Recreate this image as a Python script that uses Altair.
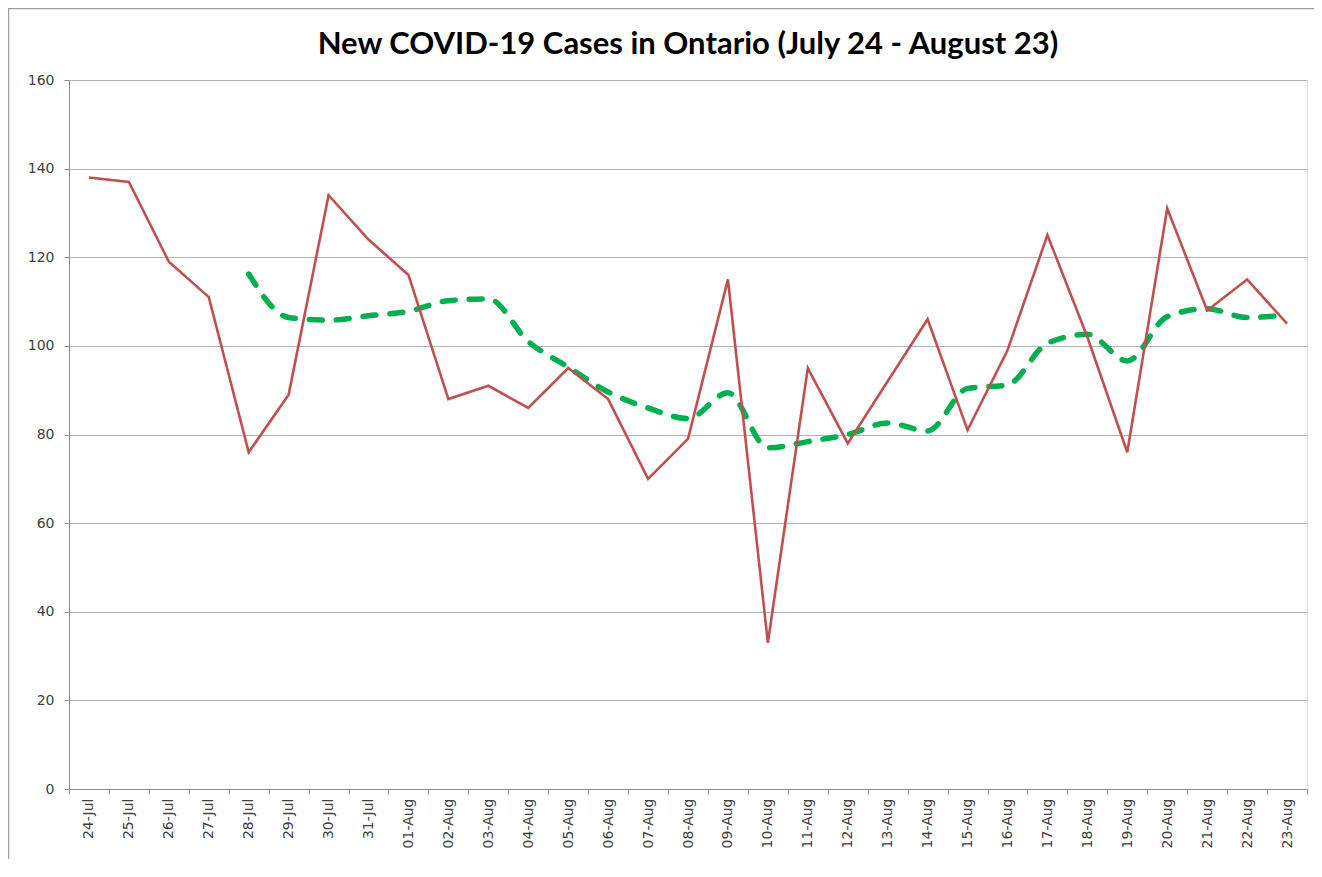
import altair as alt
import pandas as pd

dates = ["24-Jul", "25-Jul", "26-Jul", "27-Jul", "28-Jul", "29-Jul", "30-Jul", "31-Jul",
         "01-Aug", "02-Aug", "03-Aug", "04-Aug", "05-Aug", "06-Aug", "07-Aug", "08-Aug",
         "09-Aug", "10-Aug", "11-Aug", "12-Aug", "13-Aug", "14-Aug", "15-Aug", "16-Aug",
         "17-Aug", "18-Aug", "19-Aug", "20-Aug", "21-Aug", "22-Aug", "23-Aug"]
cases = [138, 137, 119, 111, 76, 89, 134, 124,
         116, 88, 91, 86, 95, 88, 70, 79,
         115, 33, 95, 78, 92, 106, 81, 99,
         125, 102, 76, 131, 108, 115, 105]
avg5 = [None, None, None, None, 116.2, 106.4, 105.8, 106.8,
        107.8, 110.2, 110.6, 101.0, 95.2, 89.6, 86.0, 83.6,
        89.4, 77.0, 78.4, 80.0, 82.6, 80.8, 90.4, 91.2,
        100.6, 102.6, 96.6, 106.6, 108.4, 106.4, 107.0]
y_ticks = [0, 20, 40, 60, 80, 100, 120, 140, 160]

df = pd.DataFrame({"date": dates, "cases": cases, "avg": avg5})

W, H = 1238, 709
PAD_L, PAD_T, PAD_R, PAD_B = 61, 72, 7, 70

xenc = alt.X("date:O", sort=dates, title=None,
             scale=alt.Scale(type="band", paddingInner=0, paddingOuter=0),
             axis=alt.Axis(labelAngle=-90, tickBand="extent", tickSize=5,
                           labelPadding=4, labelFontSize=14, labelColor="#404040",
                           labelFont="DejaVu Sans", domainColor="#8c8c8c",
                           tickColor="#8c8c8c", grid=False))
yscale = alt.Scale(domain=[0, 160], nice=False)
yaxis = alt.Axis(values=y_ticks, tickSize=5, labelPadding=10, labelFontSize=14,
                 labelColor="#404040", labelFont="DejaVu Sans",
                 domainColor="#8c8c8c", tickColor="#8c8c8c",
                 grid=True, gridColor="#b4b4b4", gridWidth=1.2)

red = alt.Chart(df).mark_line(color="#C0504D", strokeWidth=2.6).encode(
    x=xenc,
    y=alt.Y("cases:Q", scale=yscale, axis=yaxis, title=None),
)

green = alt.Chart(df).mark_line(color="#00B050", strokeWidth=5.5,
                                strokeDash=[13, 14], strokeCap="round",
                                interpolate="monotone").encode(
    x=xenc,
    y=alt.Y("avg:Q", scale=yscale, title=None),
)

border = alt.Chart(pd.DataFrame({"a": [0]})).mark_rect(
    fillOpacity=0, stroke="#a0a0a0", strokeWidth=1.5).encode(
    x=alt.value(-PAD_L + 0.5), x2=alt.value(W + 100),
    y=alt.value(-PAD_T + 0.5), y2=alt.value(H + 200),
)

chart = alt.layer(border, green, red).properties(
    width=W, height=H,
    title=alt.TitleParams("New COVID-19 Cases in Ontario (July 24 - August 23)",
                          font="Lato", fontSize=31, fontWeight="bold",
                          color="#000000", anchor="middle", offset=0, dy=53,
                          frame="group"),
    autosize=alt.AutoSizeParams(type="none"),
    padding={"left": PAD_L, "top": PAD_T, "right": PAD_R, "bottom": PAD_B},
).configure_view(stroke=None).configure(background="white")

chart.save("out.html", embed_options={"renderer": "svg", "actions": False})
